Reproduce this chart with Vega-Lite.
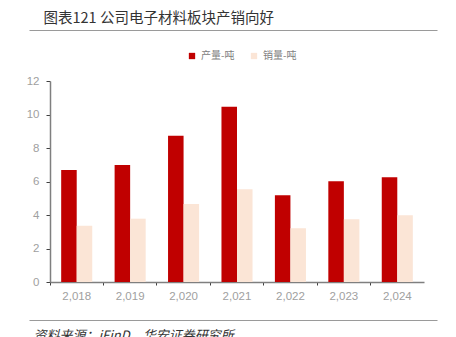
{
  "$schema": "https://vega.github.io/schema/vega-lite/v6.json",
  "autosize": {"type": "none"},
  "padding": {"left": 29, "top": 30, "right": 19, "bottom": 17},
  "width": 408,
  "height": 290,
  "background": "white",
  "config": {"view": {"stroke": null}, "font": "Liberation Sans"},
  "data": {
    "values": [
      {"year": "2,018", "series": "产量-吨", "value": 6.69},
      {"year": "2,018", "series": "销量-吨", "value": 3.36},
      {"year": "2,019", "series": "产量-吨", "value": 6.99},
      {"year": "2,019", "series": "销量-吨", "value": 3.78},
      {"year": "2,020", "series": "产量-吨", "value": 8.73},
      {"year": "2,020", "series": "销量-吨", "value": 4.66},
      {"year": "2,021", "series": "产量-吨", "value": 10.47},
      {"year": "2,021", "series": "销量-吨", "value": 5.53},
      {"year": "2,022", "series": "产量-吨", "value": 5.18},
      {"year": "2,022", "series": "销量-吨", "value": 3.21},
      {"year": "2,023", "series": "产量-吨", "value": 6.01},
      {"year": "2,023", "series": "销量-吨", "value": 3.74},
      {"year": "2,024", "series": "产量-吨", "value": 6.25},
      {"year": "2,024", "series": "销量-吨", "value": 3.98}
    ]
  },
  "layer": [
    {
      "mark": {"type": "bar"},
      "encoding": {
        "x": {
          "field": "year", "type": "nominal", "sort": null,
          "scale": {"range": [21, 395], "paddingInner": 0, "paddingOuter": 0},
          "axis": {
            "orient": "bottom", "offset": -38, "title": null, "labelAngle": 0,
            "domainColor": "#7f7f7f", "domainWidth": 1.5,
            "tickColor": "#404040", "tickSize": 3, "tickWidth": 1, "bandPosition": 0,
            "labelColor": "#a0a0a0", "labelFontSize": 11.5, "labelPadding": 5, "grid": false
          }
        },
        "xOffset": {
          "field": "series", "type": "nominal", "sort": ["产量-吨", "销量-吨"],
          "scale": {"paddingInner": 0, "paddingOuter": 0.72}
        },
        "y": {
          "field": "value", "type": "quantitative",
          "scale": {"domain": [0, 12], "range": [252, 51], "nice": false, "zero": true},
          "axis": {
            "offset": -21, "values": [0, 2, 4, 6, 8, 10, 12], "title": null, "grid": false,
            "domainColor": "#7f7f7f", "domainWidth": 1.5,
            "tickColor": "#404040", "tickSize": 4, "tickWidth": 1,
            "labelColor": "#a0a0a0", "labelFontSize": 11.5, "labelPadding": 7
          }
        },
        "color": {
          "field": "series", "type": "nominal", "sort": ["产量-吨", "销量-吨"],
          "scale": {"domain": ["产量-吨", "销量-吨"], "range": ["#C00000", "#FBE5D6"]},
          "legend": {
            "orient": "none", "legendX": 158, "legendY": 21, "direction": "horizontal",
            "title": null, "symbolType": "square", "symbolSize": 40, "symbolStrokeWidth": 0,
            "labelFont": "Noto Sans CJK SC", "labelFontSize": 10, "labelColor": "#808080",
            "columnPadding": 14, "labelOffset": 4
          }
        }
      }
    },
    {
      "mark": {"type": "tick", "opacity": 0},
      "encoding": {
        "x": {
          "field": "value", "type": "quantitative",
          "axis": {
            "orient": "top", "title": "图表121  公司电子材料板块产销向好",
            "labels": false, "ticks": false, "grid": false,
            "domainColor": "#9a9a9a", "domainWidth": 1.2,
            "titleAnchor": "start", "titleAlign": "left", "titleX": 14, "titleY": -12,
            "titleBaseline": "middle", "titleFont": "Noto Sans CJK SC", "titleFontSize": 14.5,
            "titleFontWeight": "normal", "titleColor": "#333333"
          }
        }
      }
    },
    {
      "mark": {"type": "tick", "opacity": 0},
      "encoding": {
        "x": {
          "field": "value", "type": "quantitative",
          "axis": {
            "orient": "bottom", "title": "资料来源：iFinD，华安证券研究所",
            "labels": false, "ticks": false, "grid": false,
            "domainColor": "#9a9a9a", "domainWidth": 1.2,
            "titleAnchor": "start", "titleAlign": "left", "titleX": 4, "titleY": 9,
            "titleBaseline": "top", "titleFont": "Noto Sans CJK SC", "titleFontSize": 13,
            "titleFontStyle": "italic", "titleFontWeight": "normal", "titleColor": "#333333"
          }
        }
      }
    }
  ],
  "resolve": {"scale": {"x": "independent"}, "axis": {"x": "independent"}}
}
